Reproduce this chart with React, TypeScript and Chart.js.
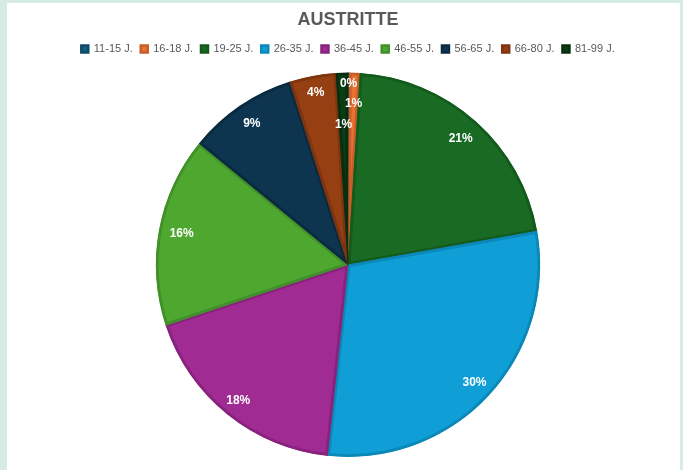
import React, { useEffect, useRef } from "react";
import { Chart, registerables } from "chart.js";

Chart.register(...registerables);

const categories = ["11-15 J.", "16-18 J.", "19-25 J.", "26-35 J.", "36-45 J.", "46-55 J.", "56-65 J.", "66-80 J.", "81-99 J."];
const shares = [0.1, 0.9, 21.2, 29.5, 18.2, 16.0, 9.2, 3.9, 1.0];
const displayLabels = ["0%", "1%", "21%", "30%", "18%", "16%", "9%", "4%", "1%"];
const fillColors = ["#156082", "#e97132", "#196b24", "#0f9ed5", "#a02b93", "#4ea72e", "#0e3550", "#953f12", "#0b3d15"];
const edgeColors = ["#104a66", "#c85d27", "#145a1d", "#0b88b8", "#88237d", "#42902a", "#0a2a40", "#7d340f", "#082e10"];
const labelRadius = [0.94, 0.84, 0.88, 0.9, 0.91, 0.88, 0.89, 0.91, 0.73];

const labelPlugin = {
  id: "sliceLabels",
  afterDatasetsDraw(chart: any) {
    const meta = chart.getDatasetMeta(0);
    const ctx = chart.ctx;
    ctx.save();
    ctx.fillStyle = "#ffffff";
    ctx.font = "bold 12px 'Liberation Sans', Arial, sans-serif";
    ctx.textAlign = "center";
    ctx.textBaseline = "middle";
    meta.data.forEach((arc: any, i: number) => {
      const { x, y, startAngle, endAngle, outerRadius } = arc.getProps(["x", "y", "startAngle", "endAngle", "outerRadius"], true);
      const mid = (startAngle + endAngle) / 2;
      const r = outerRadius * labelRadius[i];
      ctx.fillText(displayLabels[i], x + Math.cos(mid) * r, y + Math.sin(mid) * r);
    });
    ctx.restore();
  },
};

export default function App() {
  const ref = useRef<HTMLCanvasElement>(null);
  useEffect(() => {
    const chart = new Chart(ref.current!, {
      type: "pie",
      data: {
        labels: categories,
        datasets: [
          {
            data: shares,
            backgroundColor: fillColors,
            borderColor: edgeColors,
            borderWidth: 2.5,
            borderAlign: "inner",
          } as any,
        ],
      },
      options: {
        animation: false,
        responsive: false,
        layout: { padding: { left: 9, right: 0, top: 0, bottom: 13 } },
        plugins: {
          title: {
            display: true,
            text: "AUSTRITTE",
            color: "#595959",
            font: { family: "'Liberation Sans', Arial, sans-serif", size: 18, weight: "bold" },
            padding: { top: 6, bottom: 5 },
          },
          legend: {
            position: "top",
            labels: {
              boxWidth: 7,
              boxHeight: 7,
              padding: 8,
              color: "#595959",
              font: { family: "'Liberation Sans', Arial, sans-serif", size: 11 },
            },
          },
          tooltip: { enabled: false },
        },
      },
      plugins: [
        labelPlugin,
        {
          id: "legendGap",
          beforeInit(chart: any) {
            const orig = chart.legend.fit;
            chart.legend.fit = function () {
              orig.call(this);
              this.height += 8;
            };
          },
        },
      ],
    });
    return () => chart.destroy();
  }, []);
  return (
    <div style={{ position: "fixed", left: 0, top: 0, width: 683, height: 470, background: "#d6ebe3" }}>
      <div style={{ position: "absolute", left: 7, top: 3, width: 673, height: 467, background: "#ffffff" }}>
        <canvas ref={ref} width={673} height={467} style={{ display: "block" }} />
      </div>
    </div>
  );
}
